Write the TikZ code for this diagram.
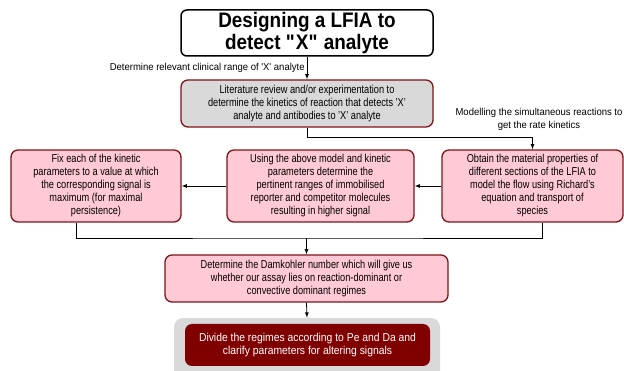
\documentclass[tikz,border=0pt]{standalone}
\usepackage{fontspec}
\setmainfont[FakeStretch=0.8]{Liberation Sans}
\newfontfamily\lblfont[FakeStretch=0.95]{Liberation Sans}
\newfontfamily\widefont[FakeStretch=0.9]{Liberation Sans}
\usepackage{tikz}
\usetikzlibrary{calc}
\definecolor{boxred}{HTML}{7F1318}
\definecolor{boxpink}{HTML}{FFCAD6}
\definecolor{boxgray}{HTML}{D9D9D9}
\definecolor{darkbox}{HTML}{800000}

\begin{document}
\begin{tikzpicture}[x=1pt, y=-1pt, line width=0.8pt, >=latex,
  stepbox/.style={draw=boxred, line width=1.3pt, fill=boxpink, rounded corners=7pt,
    align=center, inner sep=2pt, font=\fontsize{11.5}{13}\selectfont},
  lbl/.style={font=\lblfont\fontsize{10}{13}\selectfont, align=center, inner sep=2pt}]

  \useasboundingbox (0,0) rectangle (624,371);

  \node[draw, line width=1.5pt, rounded corners=6pt, fill=white, minimum width=252pt,
    minimum height=46pt, align=center, inner sep=0pt,
    font=\widefont\fontsize{21}{22}\selectfont\bfseries] (title) at (307,33)
    {Designing a LFIA to\\detect \textquotedbl X\textquotedbl{} analyte};

  \node[stepbox, fill=boxgray, minimum width=252pt, minimum height=47pt] (review) at (307,103.5)
    {Literature review and/or experimentation to\\determine the kinetics of reaction that detects 'X'\\analyte and antibodies to 'X' analyte};

  \node[stepbox, minimum width=181pt, minimum height=72pt] (obtain) at (532.5,186)
    {Obtain the material properties of\\different sections of the LFIA to\\model the flow using Richard's\\equation and transport of\\species};
  \node[stepbox, minimum width=187pt, minimum height=72pt] (pertinent) at (320.5,186)
    {Using the above model and kinetic\\parameters determine the\\pertinent ranges of immobilised\\reporter and competitor molecules\\resulting in higher signal};
  \node[stepbox, minimum width=170pt, minimum height=72pt] (fixkin) at (96,186)
    {Fix each of the kinetic\\parameters to a value at which\\the corresponding signal is\\maximum (for maximal\\persistence)};

  \node[stepbox, minimum width=283pt, minimum height=47pt] (damk) at (306.5,278.5)
    {Determine the Damkohler number which will give us\\whether our assay lies on reaction-dominant or\\convective dominant regimes};

  \node[fill=boxgray, rounded corners=9pt, minimum width=266pt, minimum height=62pt] (regbg) at (307,349) {};
  \node[stepbox, draw=none, fill=darkbox, text=white, minimum width=245pt, minimum height=42pt,
    font=\widefont\fontsize{11.5}{13}\selectfont] (regimes) at (307.5,345)
    {Divide the regimes according to Pe and Da and\\clarify parameters for altering signals};

  \draw[->] (title) -- node[lbl, left] {Determine relevant clinical range of 'X' analyte} (review);
  \draw[->] (review.south) -- ++(0,10) -| (obtain.north);
  \node[lbl] (modlbl) at (539,119.5) {Modelling the simultaneous reactions to\\get the rate kinetics};
  \draw[->] (obtain) -- (pertinent);
  \draw[->] (pertinent) -- (fixkin);

  \coordinate (join) at (damk.north |- 0,238);
  \draw ($(fixkin.south)+(-20,0)$) |- (join) -| ($(obtain.south)+(10,0)$);
  \draw[->] (join) -- (damk.north);
  \draw[->] (damk.south) -- (regbg.north);

\end{tikzpicture}
\end{document}
